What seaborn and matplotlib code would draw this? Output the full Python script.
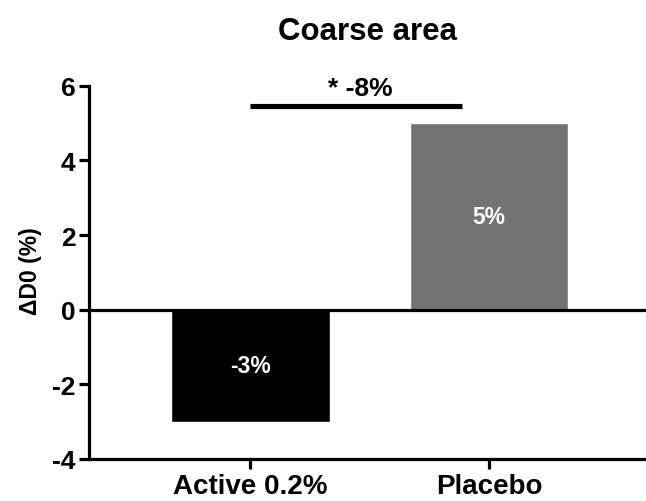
import numpy as np
import pandas as pd
import matplotlib
matplotlib.use("Agg")
import matplotlib.pyplot as plt
import seaborn as sns

# values
groups = ["Active 0.2%", "Placebo"]
delta_d0 = [-3, 5]
bar_labels = ["-3%", "5%"]
bar_colors = ["#000000", "#737373"]
yticks = [-4, -2, 0, 2, 4, 6]
sig_text = "* -8%"
sig_level = 5.45

sns.set_style("ticks")
plt.rcParams["font.family"] = ["Liberation Sans", "DejaVu Sans"]
plt.rcParams["font.weight"] = "bold"
plt.rcParams["text.color"] = "black"
plt.rcParams["axes.labelcolor"] = "black"
plt.rcParams["xtick.color"] = "black"
plt.rcParams["ytick.color"] = "black"

df = pd.DataFrame({"group": groups, "val": delta_d0})

fig = plt.figure(figsize=(6.46, 5.02), dpi=100)
ax = fig.add_axes([0.138, 0.084, 0.862, 0.743])

sns.barplot(data=df, x="group", y="val", hue="group", palette=bar_colors,
            width=0.665, legend=False, ax=ax, saturation=1)

ax.set_ylim(-4, 6)
ax.set_xlim(-0.674, 1.657)
ax.set_yticks(yticks)
ax.set_yticklabels([str(t) for t in yticks], fontsize=19, fontweight="bold")
ax.set_xticks(range(len(groups)))
ax.set_xticklabels(groups, fontsize=20, fontweight="bold")
ax.set_xlabel("")
ax.set_ylabel("ΔD0 (%)", fontsize=16.5, fontweight="bold")
ax.yaxis.set_label_coords(-0.085, 0.507)
ax.set_title("Coarse area", fontsize=22.5, fontweight="bold", pad=34)

for s in ["top", "right"]:
    ax.spines[s].set_visible(False)
for s in ["left", "bottom"]:
    ax.spines[s].set_linewidth(2.3)
    ax.spines[s].set_color("black")
ax.tick_params(axis="both", width=2.3, length=7, color="black", pad=3)

ax.axhline(0, color="black", lw=2.3, zorder=3)

for i, (v, lab) in enumerate(zip(delta_d0, bar_labels)):
    ax.text(i, v / 2, lab, color="white", ha="center", va="center",
            fontsize=16.5, fontweight="bold")

ax.plot([0, 0.887], [sig_level, sig_level], color="black", lw=3.7, clip_on=False,
        solid_capstyle="butt")
ax.text(0.46, sig_level + 0.18, sig_text, ha="center", va="bottom",
        fontsize=19, fontweight="bold", clip_on=False)

fig.savefig("out.png", dpi=100)
